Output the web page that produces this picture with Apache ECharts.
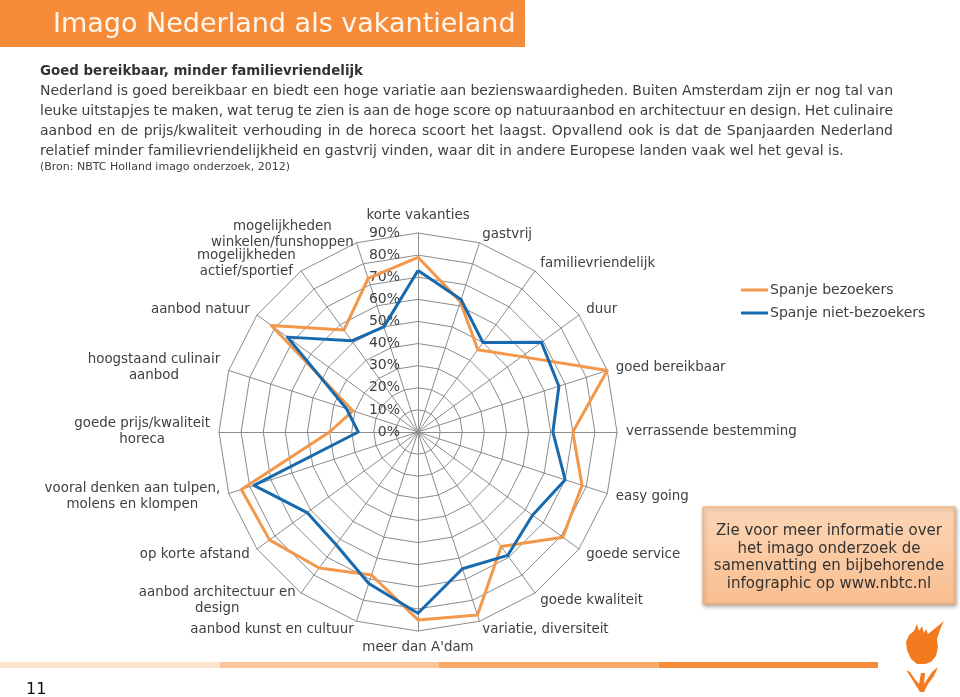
<!DOCTYPE html>
<html><head><meta charset="utf-8">
<script src="https://cdn.jsdelivr.net/npm/echarts@6/dist/echarts.min.js"></script>
<style>html,body{margin:0;padding:0;background:#fff}#c{width:960px;height:697px}</style>
</head><body><div id="c"></div>
<script>
// ---- data (clockwise from top) ----
const categories = [
  'korte vakanties', 'gastvrij', 'familievriendelijk', 'duur', 'goed bereikbaar',
  'verrassende bestemming', 'easy going', 'goede service', 'goede kwaliteit',
  'variatie, diversiteit', "meer dan A'dam", 'aanbod kunst en cultuur',
  'aanbod architectuur en\ndesign', 'op korte afstand',
  'vooral denken aan tulpen,\nmolens en klompen', 'goede prijs/kwaliteit\nhoreca',
  'hoogstaand culinair\naanbod', 'aanbod natuur', 'mogelijkheden\nactief/sportief',
  'mogelijkheden\nwinkelen/funshoppen'
];
const spanjeBezoekers    = [79, 62, 46, 58, 90, 70, 78, 81, 64, 87, 85, 68, 76, 83, 84, 40, 31, 82, 57, 73];
const spanjeNietBezoekers = [73, 63, 50, 69, 67, 61, 70, 64, 69, 65, 82, 72, 63, 62, 78, 27, 34, 73, 51, 50];
const seriesNames = ['Spanje bezoekers', 'Spanje niet-bezoekers'];
const axisMax = 90;

const titleText = 'Imago Nederland als vakantieland';
const headingText = 'Goed bereikbaar, minder familievriendelijk';
const bodyLines = [
  'Nederland is goed bereikbaar en biedt een hoge variatie aan bezienswaardigheden. Buiten Amsterdam zijn er nog tal van',
  'leuke uitstapjes te maken, wat terug te zien is aan de hoge score op natuuraanbod en architectuur en design. Het culinaire',
  'aanbod en de prijs/kwaliteit verhouding in de horeca scoort het laagst. Opvallend ook is dat de Spanjaarden Nederland',
  'relatief minder familievriendelijkheid en gastvrij vinden, waar dit in andere Europese landen vaak wel het geval is.'
];
const sourceText = '(Bron: NBTC Holland imago onderzoek, 2012)';
const infoLines = ['Zie voor meer informatie over', 'het imago onderzoek de', 'samenvatting en bijbehorende', 'infographic op www.nbtc.nl'];
const pageNumber = '11';

// ---- styling ----
const ORANGE = '#F3974B';
const BLUE = '#176AAD';
const TXT = '#404040';
const FF = '"DejaVu Sans", Verdana, sans-serif';

// ECharts radar places indicators counter-clockwise: reorder to get clockwise layout
const order = [0].concat(categories.map((_, i) => i).slice(1).reverse());
const reorder = arr => order.map(i => arr[i]);

const chart = echarts.init(document.getElementById('c'), null, {renderer: 'canvas'});

// justified body text
const mctx = document.createElement('canvas').getContext('2d');
function textLine(text, x0, x1, y, font, color, justify) {
  mctx.font = font;
  const words = text.split(' ');
  const widths = words.map(w => mctx.measureText(w).width);
  const total = widths.reduce((a, b) => a + b, 0);
  const gap = justify ? (x1 - x0 - total) / (words.length - 1) : mctx.measureText(' ').width;
  const els = [];
  let x = x0;
  words.forEach((w, i) => {
    els.push({type: 'text', x: x, y: y, silent: true,
      style: {text: w, font: font, fill: color, align: 'left', verticalAlign: 'middle'}});
    x += widths[i] + gap;
  });
  return els;
}

const graphics = [];
graphics.push({type: 'rect', shape: {x: 0, y: 0, width: 525, height: 47}, style: {fill: '#F68B3A'}, silent: true});
graphics.push({type: 'text', x: 53, y: 25, style: {text: titleText, font: '27px ' + FF, fill: '#FFF6EC', verticalAlign: 'middle'}});
graphics.push({type: 'text', x: 40, y: 72, style: {text: headingText, font: 'bold 13.4px ' + FF, fill: '#333', verticalAlign: 'middle'}});
bodyLines.forEach((l, i) => {
  textLine(l, 40, 893, 91 + i * 20, '14px ' + FF, TXT, i < bodyLines.length - 1).forEach(e => graphics.push(e));
});
graphics.push({type: 'text', x: 40, y: 167, style: {text: sourceText, font: '11px ' + FF, fill: TXT, verticalAlign: 'middle'}});

// info box
graphics.push({type: 'rect', shape: {x: 703, y: 507, width: 252, height: 97},
  style: {fill: new echarts.graphic.LinearGradient(0, 0, 0, 1, [{offset: 0, color: '#FCD6B6'}, {offset: 1, color: '#F9BE90'}]),
    stroke: '#F3A868', lineWidth: 1, shadowBlur: 4, shadowOffsetX: 1, shadowOffsetY: 2, shadowColor: 'rgba(0,0,0,0.35)'}});
infoLines.forEach((l, i) => {
  graphics.push({type: 'text', x: 829, y: 531 + i * 17.7, style: {text: l, font: '15px ' + FF, fill: '#333', align: 'center', verticalAlign: 'middle'}});
});

// bottom bar
['#FDE4CF', '#FAC59A', '#F9A967', '#F58A39'].forEach((c, i) => {
  graphics.push({type: 'rect', shape: {x: i * 219.5, y: 662, width: 219.5, height: 6}, style: {fill: c}, silent: true});
});
graphics.push({type: 'text', x: 26, y: 690, style: {text: pageNumber, font: '16px ' + FF, fill: '#111', verticalAlign: 'middle'}});

// tulip logo
const tulipHead = [[7,30],[6,22],[9,15],[14,11],[17,4],[19,11],[22,6],[24,13],[26,9],[28,14],[33,10],[38,6],[44,1],[41,7],[39,13],[37,19],[38,27],[36,36],[31,42],[25,44],[17,44],[11,39]];
const tulipLeaves = [[6,50],[10,52],[14,58],[19,64],[21,53],[25,53],[24,64],[28,58],[32,52],[38,47],[34,56],[28,64],[24,72],[20,72],[15,64],[10,56]];
graphics.push({type: 'polygon', x: 900, y: 620, silent: true, shape: {points: tulipHead}, style: {fill: '#F47A20'}});
graphics.push({type: 'polygon', x: 900, y: 620, silent: true, shape: {points: tulipLeaves}, style: {fill: '#F47A20'}});

const option = {
  backgroundColor: '#ffffff',
  animation: false,
  textStyle: {fontFamily: FF},
  legend: {
    left: 736, top: 278, orient: 'vertical', itemWidth: 27, itemHeight: 3, itemGap: 9, icon: 'rect',
    textStyle: {fontSize: 14, color: TXT, fontFamily: FF, padding: [0, 0, 0, -3]},
    data: seriesNames
  },
  radar: {
    center: [418, 432], radius: 199, startAngle: 90, shape: 'polygon', splitNumber: 9,
    nameGap: 9,
    indicator: order.map(i => {
      const ind = {name: categories[i], min: 0, max: axisMax};
      if (i === 0) ind.axisLabel = {show: true};
      return ind;
    }),
    axisName: {
      color: TXT, fontSize: 13.4, fontFamily: FF,
      formatter: v => v.split('\n').map(s => '{c|' + s + '}').join('\n'),
      rich: {c: {align: 'center', fontSize: 13.4, fontFamily: FF, color: TXT, lineHeight: 16}}
    },
    axisLine: {lineStyle: {color: '#8C8C8C', width: 1}},
    splitLine: {lineStyle: {color: '#8C8C8C', width: 1}},
    splitArea: {show: false},
    axisTick: {show: false},
    axisLabel: {show: false, formatter: '{value}%', color: TXT, fontSize: 14, fontFamily: FF, margin: 18}
  },
  series: [{
    type: 'radar', symbol: 'none',
    data: [
      {name: seriesNames[0], value: reorder(spanjeBezoekers), lineStyle: {color: ORANGE, width: 3}, itemStyle: {color: ORANGE}},
      {name: seriesNames[1], value: reorder(spanjeNietBezoekers), lineStyle: {color: BLUE, width: 3}, itemStyle: {color: BLUE}}
    ]
  }],
  graphic: graphics
};
chart.setOption(option);
</script>
</body></html>
